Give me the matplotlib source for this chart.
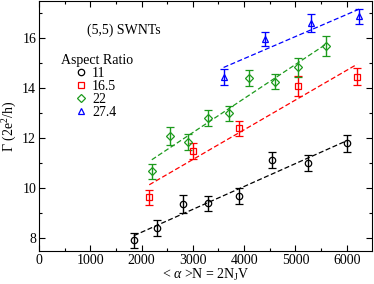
import numpy as np
import matplotlib
matplotlib.use("Agg")
import matplotlib.pyplot as plt
from matplotlib.lines import Line2D

plt.rcParams["font.family"] = ["Liberation Serif", "DejaVu Serif"]
plt.rcParams["mathtext.fontset"] = "custom"
plt.rcParams["mathtext.rm"] = "Liberation Serif"
plt.rcParams["mathtext.it"] = "Liberation Serif:italic"
plt.rcParams["font.size"] = 10

# data
labels = ["11", "16.5", "22", "27.4"]

x_11 = [1850, 2300, 2800, 3300, 3900, 4550, 5250, 6000]
y_11 = [7.93, 8.42, 9.37, 9.40, 9.69, 11.14, 11.02, 11.80]
e_11 = [0.30, 0.32, 0.36, 0.31, 0.33, 0.32, 0.32, 0.33]

x_165 = [2150, 3000, 3900, 5050, 6200]
y_165 = [9.64, 11.50, 12.40, 14.10, 14.46]
e_165 = [0.30, 0.33, 0.31, 0.40, 0.34]

x_22 = [2200, 2550, 2900, 3300, 3700, 4100, 4600, 5050, 5600]
y_22 = [10.68, 12.10, 11.86, 12.82, 13.01, 14.41, 14.26, 14.84, 15.69]
e_22 = [0.30, 0.35, 0.31, 0.32, 0.30, 0.31, 0.30, 0.38, 0.40]

x_274 = [3600, 4400, 5300, 6250]
y_274 = [14.45, 15.97, 16.61, 16.88]
e_274 = [0.33, 0.28, 0.35, 0.30]

series = [
    (x_11, y_11, e_11, "o", "black"),
    (x_165, y_165, e_165, "s", "#ff0000"),
    (x_22, y_22, e_22, "D", "#1c9a1c"),
    (x_274, y_274, e_274, "^", "#0000ff"),
]

fig = plt.figure(figsize=(3.74, 2.84), dpi=100)
ax = fig.add_axes([0.1043, 0.1162, 0.8912, 0.8803])

handles = []
for (x, y, e, m, c), lab in zip(series, labels):
    x = np.array(x)
    y = np.array(y)
    ms = 4.6 if m != "D" else 3.6
    ax.errorbar(x, y, yerr=e, fmt=m, mfc="none", mec=c, ms=ms, mew=0.9,
                ecolor=c, elinewidth=1.0, capsize=2.6, capthick=1.0)
    # linear fit
    b, a = np.polyfit(x, y, 1)
    xf = np.array([x.min(), x.max()])
    ax.plot(xf, a + b * xf, ls=(0, (4, 2)), color=c, lw=0.9)
    handles.append(Line2D([], [], ls="none", marker=m, mfc="none", mec=c,
                          ms=ms, mew=0.9, label=lab))

ax.set_xlim(0, 6500)
ax.set_ylim(7.5, 17.5)
ax.set_xticks([0, 1000, 2000, 3000, 4000, 5000, 6000])
ax.set_xticks(np.arange(500, 6500, 1000), minor=True)
ax.set_yticks([8, 10, 12, 14, 16])
ax.set_yticks([9, 11, 13, 15, 17], minor=True)
ax.tick_params(which="both", direction="in", top=True, right=True, width=0.8)
ax.tick_params(which="major", length=4.5, pad=2)
ax.tick_params(which="minor", length=2.5)
for s in ax.spines.values():
    s.set_linewidth(0.8)

ax.set_xlabel(r"< $\alpha$ >N = 2N$_\mathrm{J}$V", labelpad=0)
ax.set_ylabel(r"$\Gamma$ (2e$^2$/h)", labelpad=2)

ax.text(0.145, 0.882, "(5,5) SWNTs", transform=ax.transAxes, ha="left", va="center")
ax.text(0.066, 0.762, "Aspect Ratio", transform=ax.transAxes, ha="left", va="center")

leg = ax.legend(handles=handles, loc="upper left",
                bbox_to_anchor=(0.109, 0.735), frameon=False,
                handlelength=0.8, handletextpad=0.4, labelspacing=0.0,
                borderaxespad=0, borderpad=0)

fig.savefig("out.png", dpi=100)
